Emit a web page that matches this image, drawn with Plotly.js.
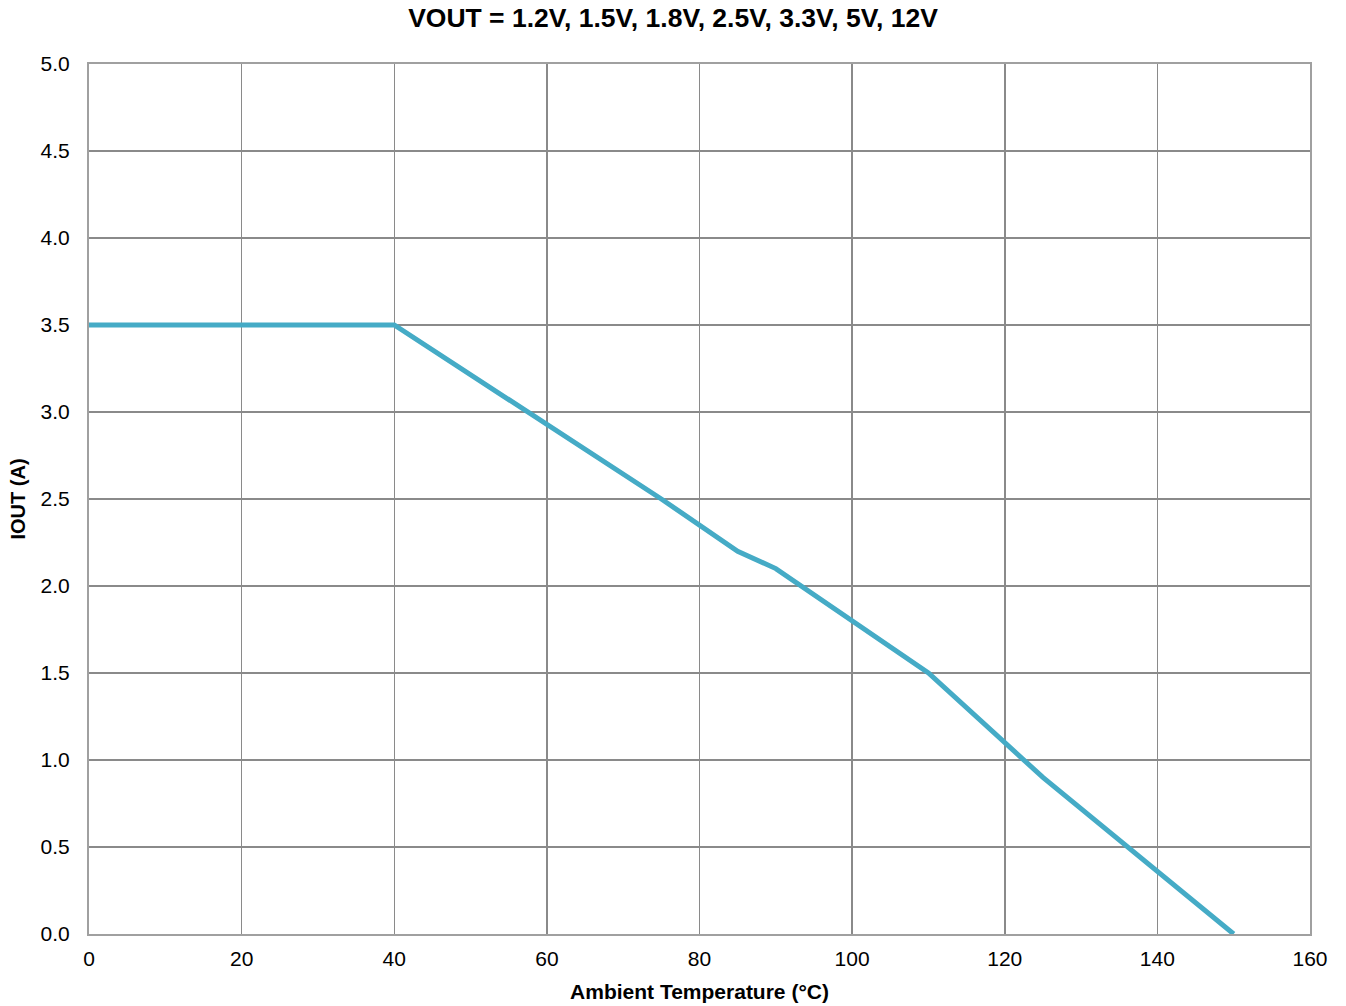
<!DOCTYPE html>
<html>
<head>
<meta charset="utf-8">
<script src="https://cdn.plot.ly/plotly-3.0.1.min.js"></script>
<style>html,body{margin:0;padding:0;background:#fff;}#chart{width:1346px;height:1006px;}</style>
</head>
<body>
<div id="chart"></div>
<script>
const temperature = [0, 40, 75, 85, 90, 110, 125, 150];
const iout = [3.5, 3.5, 2.5, 2.2, 2.1, 1.5, 0.9, 0.0];
const xTicks = [0, 20, 40, 60, 80, 100, 120, 140, 160];
const yTicks = [0, 0.5, 1, 1.5, 2, 2.5, 3, 3.5, 4, 4.5, 5];
const yTickLabels = ["0.0","0.5","1.0","1.5","2.0","2.5","3.0","3.5","4.0","4.5","5.0"];

const trace = {
  x: temperature, y: iout, type: 'scatter', mode: 'lines',
  line: {color: '#45abc6', width: 5},
  hoverinfo: 'skip'
};
const font = {family: '"Liberation Sans", Arial, sans-serif', color: '#000'};
const layout = {
  width: 1346, height: 1006,
  margin: {l: 89, r: 36, t: 64, b: 72},
  paper_bgcolor: '#fff', plot_bgcolor: '#fff',
  showlegend: false,
  font: Object.assign({size: 21}, font),
  title: {text: '<b>VOUT = 1.2V, 1.5V, 1.8V, 2.5V, 3.3V, 5V, 12V</b>', x: 0.5, xref: 'container', y: 0.982, yanchor: 'middle', font: Object.assign({size: 26.5}, font)},
  xaxis: {
    range: [0, 160], tickvals: xTicks, ticktext: xTicks.map(String),
    showgrid: true, gridcolor: '#8a8a8a', gridwidth: 1.5,
    showline: true, linecolor: '#a0a0a0', linewidth: 2, mirror: true,
    zeroline: false, ticks: '', ticklen: 0, ticklabelstandoff: 5,
    automargin: false,
    tickfont: Object.assign({size: 21}, font),
    title: {text: '<b>Ambient Temperature (°C)</b>', font: Object.assign({size: 21}, font), standoff: 15}
  },
  yaxis: {
    range: [0, 5], tickvals: yTicks, ticktext: yTickLabels,
    showgrid: true, gridcolor: '#8a8a8a', gridwidth: 1.5,
    showline: true, linecolor: '#a0a0a0', linewidth: 2, mirror: true,
    zeroline: false, ticks: '', ticklen: 0, ticklabelstandoff: 13,
    automargin: false,
    tickfont: Object.assign({size: 21}, font),
    title: {text: '<b>IOUT (A)</b>', font: Object.assign({size: 20}, font), standoff: 10}
  }
};
Plotly.newPlot('chart', [trace], layout, {displayModeBar: false, staticPlot: true});
</script>
</body>
</html>
